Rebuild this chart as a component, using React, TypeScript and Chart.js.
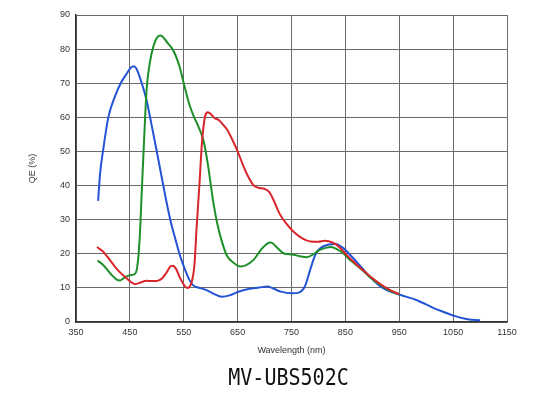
import React, { useEffect, useRef } from "react";
import { Chart, registerables } from "chart.js";

Chart.register(...registerables);

const chartTitle = "MV-UBS502C";
const xTitle = "Wavelength (nm)";
const yTitle = "QE (%)";

const xMin = 350;
const xMax = 1150;
const xStep = 100;
const yMin = 0;
const yMax = 90;
const yStep = 10;

const blueWl = [391, 395, 400, 410, 422, 433, 445, 452, 457, 462, 470, 481, 490, 500, 512, 525, 535, 543, 552, 560, 567, 575, 590, 605, 621, 635, 650, 670, 690, 705, 715, 730, 751, 765, 775, 785, 795, 805, 820, 832, 845, 860, 880, 897, 912, 925, 953, 984, 1015, 1035, 1052, 1077, 1100];
const blueQE = [35.5, 44, 50, 60, 66, 70, 73, 74.6, 75, 74.3, 71, 65, 58, 50, 40, 30, 24, 19.5, 15.5, 12.5, 10.8, 10.2, 9.5, 8.3, 7.4, 7.8, 8.8, 9.7, 10.1, 10.4, 9.9, 8.9, 8.4, 8.7, 10.5, 15.5, 20, 21.8, 22.7, 22.9, 21.8, 19.5, 16, 13, 10.8, 9.5, 7.9, 6.3, 4.0, 2.8, 1.8, 0.8, 0.5];

const greenWl = [390, 400, 415, 425, 432, 440, 447, 458, 463, 468, 472, 476, 481, 487, 494, 501, 507, 513, 519, 527, 534, 542, 550, 560, 568, 578, 587, 595, 604, 612, 620, 630, 643, 655, 665, 680, 695, 705, 712, 722, 736, 751, 765, 779, 790, 801, 815, 823, 835, 847, 860, 878, 895, 916, 935, 950];
const greenQE = [18, 16.8, 14, 12.5, 12.2, 13, 13.6, 14, 15.5, 24, 38, 52, 68, 76, 81, 83.5, 84, 83.3, 82, 80.5, 78.5, 75, 70, 64, 60.5, 57, 53, 46, 36, 29, 24, 19.5, 17.3, 16.3, 16.6, 18.3, 21.5, 23, 23.3, 22, 20.1, 19.8, 19.3, 19, 19.8, 21, 21.8, 22, 21.3, 20, 18, 15.7, 13.2, 10.8, 9, 8];

const redWl = [389, 395, 401, 410, 426, 444, 455, 460, 470, 481, 490, 500, 510, 518, 526, 530, 536, 542, 549, 556, 560, 566, 570, 574, 579, 584, 590, 595, 600, 607, 615, 622, 630, 640, 650, 660, 670, 680, 690, 700, 708, 716, 728, 740, 755, 770, 785, 800, 812, 826, 840, 855, 878, 895, 916, 935, 950];
const redQE = [22, 21.3, 20.5, 18.8, 15.5, 12.8, 11.4, 11.1, 11.6, 12.1, 12, 12, 12.8, 14.5, 16.4, 16.5, 15.5, 13.3, 11.2, 10, 10.2, 12.5, 17, 28, 40, 53, 60.5, 61.5, 61, 59.8, 59.2, 58, 56.5, 53.5, 50, 46, 42.5, 40, 39.3, 39, 38.2, 36, 31.7, 28.9, 26.3, 24.5, 23.6, 23.5, 23.8, 23.3, 21.8, 19.2, 15.8, 13.5, 11, 9.2, 8.2];

const toPoints = (xs: number[], ys: number[]) => xs.map((x, i) => ({ x, y: ys[i] }));

const bottomTitlePlugin = {
  id: "bottomTitle",
  afterDraw(chart: any) {
    const { ctx, chartArea } = chart;
    const cx = (chartArea.left + chartArea.right) / 2 - 3;
    ctx.save();
    ctx.font = "23px 'DejaVu Sans Mono'";
    ctx.fillStyle = "#111";
    ctx.textAlign = "center";
    ctx.textBaseline = "alphabetic";
    ctx.translate(cx, 385);
    ctx.scale(0.87, 1);
    ctx.fillText(chartTitle, 0, 0);
    ctx.restore();
  },
};

export default function App() {
  const ref = useRef<HTMLCanvasElement | null>(null);

  useEffect(() => {
    if (!ref.current) return;
    const line = (label: string, color: string, xs: number[], ys: number[]) => ({
      label,
      data: toPoints(xs, ys),
      borderColor: color,
      backgroundColor: color,
      borderWidth: 2,
      pointRadius: 0,
      cubicInterpolationMode: "monotone" as const,
      fill: false,
    });
    const chart = new Chart(ref.current, {
      type: "line",
      data: {
        datasets: [
          line("Red", "#d8262a", redWl, redQE),
          line("Green", "#1f8f2a", greenWl, greenQE),
          line("Blue", "#2454d6", blueWl, blueQE),
        ],
      },
      plugins: [bottomTitlePlugin],
      options: {
        animation: false,
        responsive: true,
        maintainAspectRatio: false,
        layout: { padding: { left: 0, right: 28, top: 15, bottom: 34 } },
        plugins: {
          legend: { display: false },
          tooltip: { enabled: false },
          title: { display: false },
        },
        scales: {
          x: {
            type: "linear",
            min: xMin,
            max: xMax,
            afterFit: (s: any) => { s.height = 40; },
            afterBuildTicks: (s: any) => {
              const t = [];
              for (let v = xMin; v <= xMax; v += xStep) t.push({ value: v });
              s.ticks = t;
            },
            ticks: {
              color: "#333",
              font: { family: "Liberation Sans", size: 9 },
              padding: 5,
              maxRotation: 0,
              autoSkip: false,
              callback: (v: any) => String(v),
            },
            grid: { color: "#6a6a6a", lineWidth: 1, drawTicks: false },
            border: { color: "#333", width: 1.5 },
            title: {
              display: true,
              text: xTitle,
              color: "#333",
              font: { family: "Liberation Sans", size: 9 },
              padding: { top: 0, bottom: 6 },
            },
          },
          y: {
            type: "linear",
            min: yMin,
            max: yMax,
            afterFit: (s: any) => { s.width = 76; },
            ticks: {
              stepSize: yStep,
              color: "#333",
              font: { family: "Liberation Sans", size: 9 },
              padding: 6,
              callback: (v: any) => String(v),
            },
            grid: { color: "#6a6a6a", lineWidth: 1, drawTicks: false },
            border: { color: "#333", width: 1.5 },
            title: {
              display: true,
              text: yTitle,
              color: "#333",
              font: { family: "Liberation Sans", size: 9 },
              padding: { top: 27, bottom: 0 },
            },
          },
        },
      },
    });
    return () => chart.destroy();
  }, []);

  return (
    <div style={{ position: "fixed", left: 0, top: 0, width: 535, height: 396, background: "#fff" }}>
      <canvas ref={ref} />
    </div>
  );
}
